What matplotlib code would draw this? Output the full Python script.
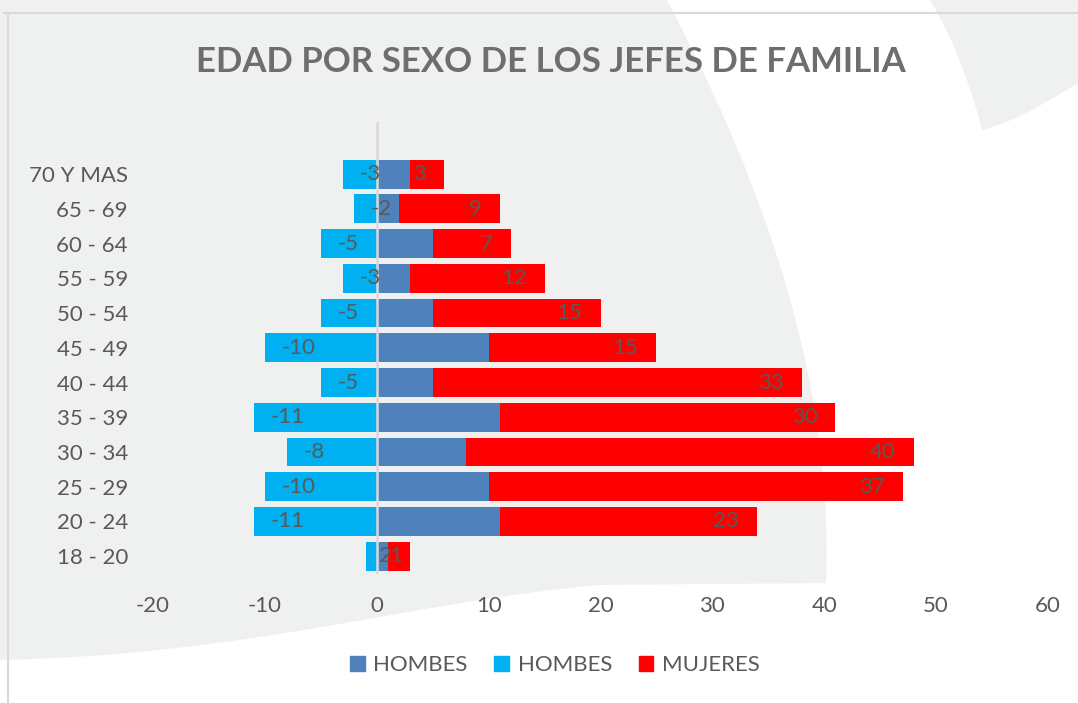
import matplotlib
matplotlib.use("Agg")
from matplotlib import pyplot as plt
from matplotlib.path import Path
from matplotlib.patches import PathPatch, Patch
from matplotlib.lines import Line2D
import numpy as np

plt.rcParams['font.family'] = ['Lato', 'DejaVu Sans']

# data (bottom to top, as in the chart)
age_groups = ['18 - 20', '20 - 24', '25 - 29', '30 - 34', '35 - 39', '40 - 44',
              '45 - 49', '50 - 54', '55 - 59', '60 - 64', '65 - 69', '70 Y MAS']
hombres_neg = [-1, -11, -10, -8, -11, -5, -10, -5, -3, -5, -2, -3]
hombres_pos = [1, 11, 10, 8, 11, 5, 10, 5, 3, 5, 2, 3]
mujeres = [2, 23, 37, 40, 30, 33, 15, 15, 12, 7, 9, 3]
xticks = [-20, -10, 0, 10, 20, 30, 40, 50, 60]

c_blue = '#4F81BD'
c_cyan = '#00B0F0'
c_red = '#FF0000'
c_text = '#595959'
c_bg = '#EFF0F0'

W, H = 1078, 703
fig = plt.figure(figsize=(W / 100, H / 100), dpi=100)
fig.patch.set_facecolor('white')


def px(pts):
    return [(x / W, 1 - y / H) for x, y in pts]


# decorative background swooshes
left_shape = Path(px([(0, 0), (667, 0),
                      (740, 140), (835, 350), (826, 583),
                      (600, 585),
                      (420, 600), (250, 655), (0, 660),
                      (0, 0)]),
                  [Path.MOVETO, Path.LINETO,
                   Path.CURVE4, Path.CURVE4, Path.CURVE4,
                   Path.LINETO,
                   Path.CURVE4, Path.CURVE4, Path.CURVE4,
                   Path.CLOSEPOLY])
right_shape = Path(px([(930, 0),
                       (955, 40), (975, 100), (982, 130),
                       (1015, 122), (1050, 100), (1078, 83),
                       (1078, 0), (930, 0)]),
                   [Path.MOVETO,
                    Path.CURVE4, Path.CURVE4, Path.CURVE4,
                    Path.CURVE4, Path.CURVE4, Path.CURVE4,
                    Path.LINETO, Path.CLOSEPOLY])
for shp in (left_shape, right_shape):
    fig.patches.append(PathPatch(shp, transform=fig.transFigure, facecolor=c_bg,
                                 edgecolor='none', zorder=-5))

# chart area border
fig.lines.append(Line2D([4 / W, 1], [1 - 13 / H] * 2, transform=fig.transFigure,
                        color='#D9D9D9', lw=1.5, zorder=-4))
fig.lines.append(Line2D([8 / W] * 2, [0, 1 - 13 / H], transform=fig.transFigure,
                        color='#D9D9D9', lw=1.5, zorder=-4))

ax = fig.add_axes([153 / W, 1 - 573.6 / H, 895 / W, 451.6 / H])
ax.set_facecolor('none')
ax.set_zorder(2)

y = np.arange(len(age_groups))
bh = 0.83
ax.barh(y, hombres_pos, height=bh, color=c_blue, label='HOMBES', zorder=2)
ax.barh(y, hombres_neg, height=bh, color=c_cyan, label='HOMBES', zorder=2)
ax.barh(y, mujeres, left=hombres_pos, height=bh, color=c_red, label='MUJERES', zorder=2)

ax.axvline(0, color='#D9D9D9', lw=1.8, zorder=3)

for i in range(len(age_groups)):
    ax.annotate(str(hombres_neg[i]), xy=(hombres_neg[i], y[i]), xytext=(12, 0),
                textcoords='offset points', ha='left', va='center',
                fontsize=16, color=c_text, zorder=4)
    ax.annotate(str(mujeres[i]), xy=(hombres_pos[i] + mujeres[i], y[i]), xytext=(-13, 0),
                textcoords='offset points', ha='right', va='center',
                fontsize=16, color=c_text, zorder=4)

ax.set_xlim(-20, 60)
ax.set_ylim(-0.5, len(age_groups) + 0.5)
ax.set_xticks(xticks)
ax.set_xticklabels([str(t) for t in xticks])
ax.set_yticks(y)
ax.set_yticklabels(age_groups)
ax.tick_params(axis='both', length=0, labelsize=16, labelcolor=c_text)
ax.tick_params(axis='x', pad=16)
ax.tick_params(axis='y', pad=18)
for s in ax.spines.values():
    s.set_visible(False)

fig.text(551 / W, 1 - 62 / H, 'EDAD POR SEXO DE LOS JEFES DE FAMILIA',
         ha='center', va='center', fontsize=25, fontweight='bold', color='#6E6E6E')

handles = [Patch(color=c_blue), Patch(color=c_cyan), Patch(color=c_red)]
fig.legend(handles, ['HOMBES', 'HOMBES', 'MUJERES'], loc='center',
           bbox_to_anchor=(555 / W, 1 - 665 / H), ncol=3, frameon=False,
           fontsize=16, labelcolor=c_text, handlelength=0.65, handleheight=0.65,
           handletextpad=0.4, columnspacing=1.2)

fig.savefig('out.png', dpi=100, facecolor=fig.get_facecolor())
